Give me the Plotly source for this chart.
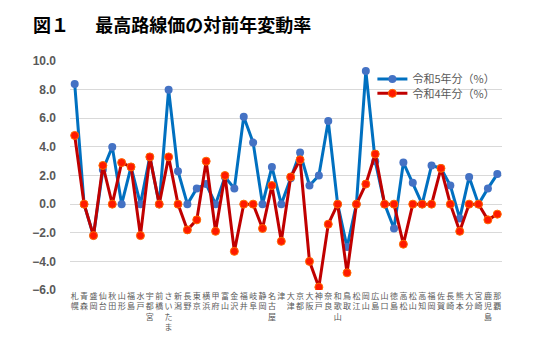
import plotly.graph_objects as go

# Prefectural capitals (order along the x axis)
cities = ["札幌", "青森", "盛岡", "仙台", "秋田", "山形", "福島", "水戸", "宇都宮", "前橋",
          "さいたま", "新潟", "長野", "東京", "横浜", "甲府", "富山", "金沢", "福井", "岐阜",
          "静岡", "名古屋", "津", "大津", "京都", "大阪", "神戸", "奈良", "和歌山", "鳥取",
          "松江", "岡山", "広島", "山口", "徳島", "高松", "松山", "高知", "福岡", "佐賀",
          "長崎", "熊本", "大分", "宮崎", "鹿児島", "那覇"]

# Year-on-year change of the highest route price (%)
r5_values = [8.4, 0.0, -2.2, 2.4, 4.0, 0.0, 2.6, 0.0, 3.3, 0.0,
             8.0, 2.3, 0.0, 1.1, 1.4, 0.0, 1.9, 1.1, 6.1, 4.3,
             0.0, 2.6, 0.0, 1.8, 3.6, 1.3, 2.0, 5.8, 0.0, -3.0,
             0.0, 9.3, 3.0, 0.0, -1.7, 2.9, 1.5, 0.0, 2.7, 2.5,
             1.3, -1.0, 1.9, 0.0, 1.1, 2.1]
r4_values = [4.8, 0.0, -2.2, 2.7, 0.0, 2.9, 2.6, -2.2, 3.3, 0.0,
             3.3, 0.0, -1.8, -1.1, 3.0, -1.9, 2.0, -3.3, 0.0, 0.0,
             -1.7, 1.3, -2.6, 1.9, 3.1, -4.0, -5.8, -1.4, 0.0, -4.8,
             0.0, 1.4, 3.5, 0.0, 0.0, -2.8, 0.0, 0.0, 0.0, 2.5,
             0.0, -1.9, 0.0, 0.0, -1.1, -0.7]

y_ticks = [10, 8, 6, 4, 2, 0, -2, -4, -6]

JP = "Noto Sans CJK JP"
GRAY = "#595959"

# vertical (one character per line) category labels
vertical_labels = ["<br>".join(list(c)) for c in cities]

fig = go.Figure()
fig.add_trace(go.Scatter(
    x=cities, y=r5_values, name="令和5年分（%）", mode="lines+markers",
    line=dict(color="#0070C0", width=3),
    marker=dict(color="#4472C4", size=8, line=dict(width=0)),
    legend="legend",
))
fig.add_trace(go.Scatter(
    x=cities, y=r4_values, name="令和4年分（%）", mode="lines+markers",
    line=dict(color="#C00000", width=3),
    marker=dict(color="#FF1A00", size=8, line=dict(color="#FF6A00", width=1)),
    legend="legend2",
))

legend_style = dict(
    xanchor="left", yanchor="top", bgcolor="rgba(0,0,0,0)",
    font=dict(family=JP, size=11, color=GRAY), itemwidth=30,
)

fig.update_layout(
    width=550, height=347,
    margin=dict(l=70, r=48, t=61, b=57),
    paper_bgcolor="white", plot_bgcolor="white",
    showlegend=True,
    title=dict(
        text="<b>図１　&nbsp;&nbsp;最高路線価の対前年変動率</b>",
        font=dict(family=JP, size=18, color="#000000"),
        x=33 / 550, xanchor="left", xref="container",
        y=1 - 26 / 347, yanchor="middle", yref="container",
    ),
    legend=dict(x=0.70, y=0.985, **legend_style),
    legend2=dict(x=0.70, y=0.922, **legend_style),
    xaxis=dict(
        type="category",
        tickmode="array", tickvals=cities, ticktext=vertical_labels,
        tickangle=0,
        tickfont=dict(family=JP, size=8, color=GRAY),
        range=[-0.5, len(cities) - 0.5],
        showgrid=False, zeroline=False, showline=False, ticks="",
    ),
    yaxis=dict(
        range=[-6, 10], tickvals=y_ticks, tickformat=".1f",
        tickfont=dict(family="Liberation Sans", size=12, color=GRAY, weight="bold"),
        showgrid=True, gridcolor="#D9D9D9", gridwidth=1,
        zeroline=False, showline=False, ticks="",
        ticklabelstandoff=13,
    ),
)

fig.write_html("out.html")
